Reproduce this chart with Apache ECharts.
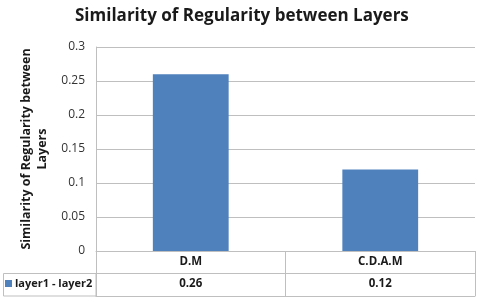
<!DOCTYPE html>
<html><head><meta charset="utf-8">
<script src="https://cdn.jsdelivr.net/npm/echarts@6/dist/echarts.min.js"></script>
<style>html,body{margin:0;padding:0;background:#fff}#c{width:480px;height:302px}</style>
</head><body><div id="c"></div>
<script>
const categories = ['D.M', 'C.D.A.M'];
const seriesName = 'layer1 - layer2';
const values = [0.26, 0.12];
const yTicks = [0, 0.05, 0.1, 0.15, 0.2, 0.25, 0.3];

const chart = echarts.init(document.getElementById('c'), null, {renderer: 'canvas'});
const lineColor = '#bfbfbf';
const font = 'Open Sans';
chart.setOption({
  animation: false,
  title: {
    text: 'Similarity of Regularity between Layers',
    left: 70, top: 3,
    textStyle: {fontFamily: font, fontWeight: 'bold', fontSize: 17, color: '#1a1a1a'}
  },
  grid: {left: 96, right: 5, top: 47, bottom: 51},
  legend: {
    data: [seriesName], left: 5, top: 278, itemWidth: 7, itemHeight: 7, itemGap: 0,
    icon: 'rect', padding: 0,
    textStyle: {fontFamily: font, fontWeight: 'bold', fontSize: 11, color: '#1a1a1a', padding: [0, 0, 0, -2]}
  },
  graphic: [{
    type: 'rect', shape: {x: 3.5, y: 273.5, width: 92.5, height: 22.5},
    style: {fill: 'none', stroke: lineColor, lineWidth: 1}, silent: true
  }],
  xAxis: [{
    type: 'category', data: categories, position: 'bottom',
    axisLine: {show: true, lineStyle: {color: lineColor}},
    axisTick: {show: true, length: 45, lineStyle: {color: lineColor}},
    axisLabel: {fontFamily: font, fontWeight: 'bold', fontSize: 11.5, color: '#1a1a1a', margin: 5}
  }, {
    type: 'category', data: categories, position: 'bottom', offset: 22,
    axisLine: {show: true, lineStyle: {color: lineColor}},
    axisTick: {show: false},
    axisLabel: {fontFamily: font, fontWeight: 'bold', fontSize: 11.5, color: '#1a1a1a', margin: 5,
      formatter: (v, i) => String(values[i])}
  }, {
    type: 'category', data: categories, position: 'bottom', offset: 45,
    axisLine: {show: true, lineStyle: {color: lineColor}},
    axisTick: {show: false}, axisLabel: {show: false}
  }],
  yAxis: {
    type: 'value', min: yTicks[0], max: yTicks[yTicks.length - 1], interval: 0.05,
    name: 'Similarity of Regularity between\nLayers',
    nameLocation: 'middle', nameRotate: 90, nameGap: 46,
    nameTextStyle: {fontFamily: font, fontWeight: 'bold', fontSize: 12.5, color: '#1a1a1a', lineHeight: 16},
    axisLine: {show: true, lineStyle: {color: lineColor}},
    axisTick: {show: false},
    splitLine: {lineStyle: {color: lineColor}},
    axisLabel: {fontFamily: font, fontSize: 12, color: '#333', margin: 11}
  },
  series: [{
    name: seriesName, type: 'bar', data: values, barWidth: '40%',
    itemStyle: {color: '#4f81bd'}
  }]
});
</script></body></html>
